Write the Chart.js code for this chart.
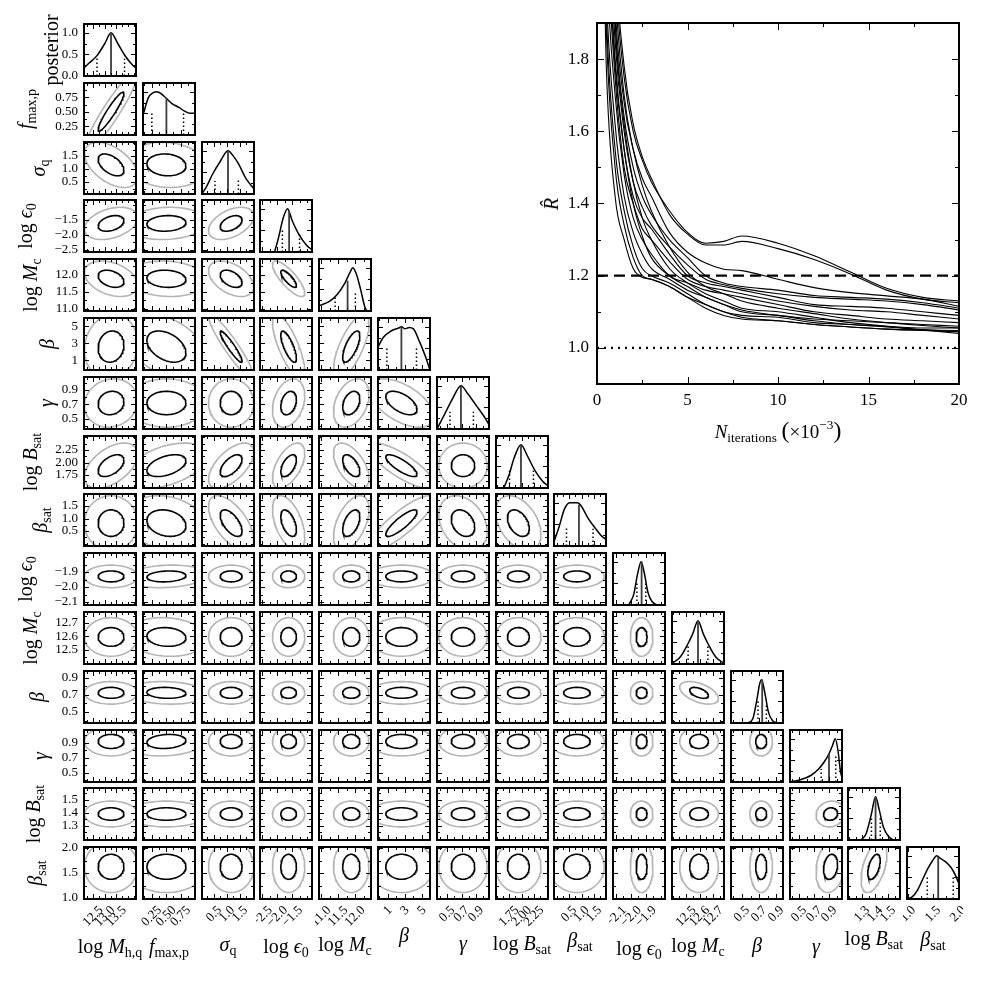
<!DOCTYPE html>
<html lang="en">
<head>
<meta charset="UTF-8">
<title>Posterior corner plot and R-hat convergence</title>
<script src="https://cdn.jsdelivr.net/npm/chart.js@4.4.1/dist/chart.umd.min.js"></script>
<style>
    body { margin: 0; background: #fff; }
    #page { position: relative; width: 983px; height: 983px; overflow: hidden; background: #fff; }
    canvas { position: absolute; }
    .lab { position: absolute; white-space: nowrap; line-height: 1; color: #000;
           font-family: "Liberation Serif", "DejaVu Serif", serif; }
    .lab sub { font-size: 0.7em; vertical-align: -0.3em; }
    .lab sup { font-size: 0.7em; vertical-align: 0.7em; }
</style>
</head>
<body>
<div id="page"></div>
<script>
// ---- corner plot: one entry per parameter ----
const paramLabel = [
    'log <i>M</i><sub>h,q</sub>', '<i>f</i><sub>max,p</sub>', '<i>σ</i><sub>q</sub>', 'log <i>ϵ</i><sub>0</sub>',
    'log <i>M</i><sub>c</sub>', '<i>β</i>', '<i>γ</i>', 'log <i>B</i><sub>sat</sub>', '<i>β</i><sub>sat</sub>',
    'log <i>ϵ</i><sub>0</sub>', 'log <i>M</i><sub>c</sub>', '<i>β</i>', '<i>γ</i>', 'log <i>B</i><sub>sat</sub>',
    '<i>β</i><sub>sat</sub>'
];
const axisLo = [12.10, 0.10, 0.04, -2.57, 10.94, -0.15, 0.36, 1.49, -0.10, -2.120, 12.396, 0.372, 0.38, 1.192, 0.98];
const axisHi = [14.35, 1.00, 2.04, -0.85, 12.47, 5.95, 1.08, 2.53, 1.98, -1.773, 12.780, 0.980, 1.07, 1.592, 2.02];
const majorTicks = [
    [12.5, 13.0, 13.5], [0.25, 0.5, 0.75], [0.5, 1.0, 1.5], [-2.5, -2.0, -1.5], [11.0, 11.5, 12.0],
    [1, 3, 5], [0.5, 0.7, 0.9], [1.75, 2.0, 2.25], [0.5, 1.0, 1.5], [-2.1, -2.0, -1.9],
    [12.5, 12.6, 12.7], [0.5, 0.7, 0.9], [0.5, 0.7, 0.9], [1.3, 1.4, 1.5], [1.0, 1.5, 2.0]
];
const tickText = [
    ['12.5', '13.0', '13.5'], ['0.25', '0.50', '0.75'], ['0.5', '1.0', '1.5'], ['−2.5', '−2.0', '−1.5'],
    ['11.0', '11.5', '12.0'], ['1', '3', '5'], ['0.5', '0.7', '0.9'], ['1.75', '2.00', '2.25'],
    ['0.5', '1.0', '1.5'], ['−2.1', '−2.0', '−1.9'], ['12.5', '12.6', '12.7'], ['0.5', '0.7', '0.9'],
    ['0.5', '0.7', '0.9'], ['1.3', '1.4', '1.5'], ['1.0', '1.5', '2.0']
];
const minorStep = [0.25, 0.125, 0.25, 0.25, 0.25, 1, 0.1, 0.125, 0.25, 0.05, 0.05, 0.1, 0.1, 0.05, 0.25];

// posterior axis of the diagonal panels
const postRange = [0, 1.2];
const postTicks = [0, 0.5, 1.0];
const postText = ['0.0', '0.5', '1.0'];

// 2D contours: centre and spread as a fraction of each axis, correlation per pair (row, col)
const centre = [0.52, 0.45, 0.56, 0.55, 0.62, 0.45, 0.50, 0.43, 0.44, 0.55, 0.52, 0.58, 0.78, 0.50, 0.62];
const spread = [0.165, 0.25, 0.14, 0.10, 0.11, 0.20, 0.15, 0.14, 0.17, 0.07, 0.12, 0.07, 0.09, 0.08, 0.16];
const corr = [
    [],
    [0.93],
    [-0.5, -0.1],
    [0.35, 0.1, 0.45],
    [-0.35, -0.1, -0.45, -0.8],
    [0.1, -0.4, -0.93, -0.75, 0.7],
    [0.1, 0, 0, 0.3, 0.35, -0.55],
    [0.5, 0.45, 0.6, 0.55, -0.55, -0.8, 0],
    [0, -0.2, -0.6, -0.5, 0.5, 0.85, -0.3, -0.4],
    [0, 0.15, 0, 0, 0, 0, 0, 0, 0],
    [0, -0.1, 0, 0, 0, 0, 0, 0, 0, 0],
    [0, -0.1, 0, 0, 0, 0, 0, 0, 0, 0, -0.5],
    [0, 0.15, 0, 0, 0, 0, 0, 0, 0, 0, 0, 0],
    [0, 0, 0, 0, 0, 0, 0, 0, 0, 0, 0, 0, 0.1],
    [0, 0, 0, 0, 0, 0, 0, 0, 0, 0, 0, 0, 0.2, 0.5]
];
const innerLevel = 1.5;
const outerLevel = 3.1;

// 1D marginals: [fraction of axis, height]
const posteriorCurves = [
    [[0, 0.19], [0.1, 0.3], [0.25, 0.47], [0.4, 0.75], [0.52, 1.0], [0.65, 0.75], [0.8, 0.45], [0.92, 0.27], [1, 0.18]],
    [[0, 0.45], [0.1, 0.85], [0.2, 0.98], [0.27, 1.0], [0.4, 0.9], [0.55, 0.73], [0.7, 0.63], [0.8, 0.55], [0.9, 0.5], [1, 0.5]],
    [[0, 0.0], [0.1, 0.2], [0.2, 0.45], [0.35, 0.75], [0.5, 1.0], [0.6, 0.88], [0.7, 0.7], [0.85, 0.35], [1, 0.12]],
    [[0.28, 0.0], [0.35, 0.3], [0.45, 0.8], [0.53, 1.0], [0.62, 0.72], [0.75, 0.4], [0.9, 0.15], [1, 0.05]],
    [[0, 0.12], [0.2, 0.22], [0.35, 0.38], [0.5, 0.65], [0.6, 0.9], [0.65, 1.0], [0.72, 0.85], [0.8, 0.5], [0.88, 0.1], [0.92, 0.0]],
    [[0, 0.53], [0.1, 0.75], [0.25, 0.9], [0.4, 0.97], [0.45, 1.0], [0.52, 0.95], [0.6, 0.98], [0.68, 0.95], [0.8, 0.65], [0.9, 0.35], [1, 0.0]],
    [[0, 0.0], [0.15, 0.35], [0.3, 0.7], [0.46, 1.0], [0.6, 0.8], [0.75, 0.55], [0.9, 0.3], [1, 0.1]],
    [[0.15, 0.0], [0.25, 0.3], [0.35, 0.7], [0.48, 1.0], [0.6, 0.75], [0.75, 0.4], [0.9, 0.15], [1, 0.05]],
    [[0, 0.1], [0.1, 0.45], [0.2, 0.85], [0.3, 1.0], [0.45, 1.0], [0.52, 0.93], [0.65, 0.65], [0.8, 0.4], [0.9, 0.25], [1, 0.15]],
    [[0.3, 0.0], [0.4, 0.25], [0.47, 0.7], [0.54, 1.0], [0.6, 0.75], [0.67, 0.3], [0.75, 0.08], [0.85, 0.0]],
    [[0, 0.02], [0.15, 0.15], [0.3, 0.45], [0.4, 0.7], [0.5, 1.0], [0.6, 0.7], [0.7, 0.45], [0.85, 0.15], [1, 0.02]],
    [[0.32, 0.0], [0.42, 0.1], [0.5, 0.55], [0.55, 0.9], [0.59, 1.0], [0.65, 0.7], [0.72, 0.25], [0.8, 0.05], [0.9, 0.0]],
    [[0, 0.0], [0.2, 0.05], [0.4, 0.15], [0.55, 0.3], [0.65, 0.45], [0.75, 0.65], [0.82, 0.85], [0.87, 1.0], [0.92, 0.75], [0.97, 0.25], [1, 0.1]],
    [[0.25, 0.0], [0.35, 0.15], [0.45, 0.6], [0.53, 1.0], [0.6, 0.7], [0.68, 0.3], [0.78, 0.08], [0.88, 0.0]],
    [[0, 0.0], [0.1, 0.05], [0.2, 0.2], [0.3, 0.45], [0.4, 0.7], [0.5, 0.9], [0.57, 1.0], [0.65, 0.93], [0.75, 0.85], [0.85, 0.72], [0.93, 0.55], [1, 0.35]]
];
const medianLine = [[0.52, 1.0], [0.45, 0.85], [0.5, 1.0], [0.56, 0.95], [0.55, 0.7], [0.45, 1.0], [0.46, 1.0], [0.48, 1.0],
    [0.48, 0.95], [0.55, 1.0], [0.5, 1.0], [0.6, 1.0], [0.75, 0.65], [0.53, 1.0], [0.6, 0.98]];
const lowerLine = [[0.25, 0.42], [0.17, 0.55], [0.25, 0.3], [0.43, 0.5], [0.31, 0.35], [0.17, 0.5], [0.25, 0.4], [0.26, 0.4],
    [0.24, 0.45], [0.46, 0.5], [0.31, 0.45], [0.52, 0.5], [0.6, 0.3], [0.45, 0.5], [0.39, 0.5]];
const upperLine = [[0.78, 0.4], [0.78, 0.5], [0.7, 0.35], [0.76, 0.4], [0.7, 0.45], [0.74, 0.5], [0.7, 0.4], [0.72, 0.4],
    [0.75, 0.4], [0.63, 0.5], [0.69, 0.45], [0.68, 0.45], [0.88, 0.6], [0.62, 0.5], [0.89, 0.5]];

// ---- R-hat panel ----
const rhatIter = [0.25, 0.5, 1, 1.5, 2, 2.5, 3, 4, 5, 6, 7, 8, 10, 12, 14, 16, 18, 20];
const rhatChains = [
    [3.4, 2.8, 2.05, 1.75, 1.6, 1.52, 1.46, 1.38, 1.32, 1.29, 1.295, 1.31, 1.29, 1.255, 1.21, 1.165, 1.14, 1.13],
    [3.5, 2.9, 2.1, 1.78, 1.62, 1.53, 1.47, 1.37, 1.315, 1.285, 1.285, 1.295, 1.275, 1.245, 1.205, 1.16, 1.135, 1.125],
    [3.2, 2.7, 1.95, 1.68, 1.55, 1.47, 1.42, 1.32, 1.265, 1.235, 1.218, 1.214, 1.19, 1.167, 1.153, 1.144, 1.135, 1.115],
    [3.0, 2.5, 1.9, 1.64, 1.5, 1.42, 1.37, 1.3, 1.25, 1.2, 1.18, 1.17, 1.16, 1.145, 1.14, 1.135, 1.125, 1.11],
    [3.0, 2.4, 1.85, 1.6, 1.46, 1.39, 1.34, 1.28, 1.23, 1.19, 1.175, 1.165, 1.15, 1.14, 1.135, 1.13, 1.12, 1.105],
    [2.8, 2.3, 1.8, 1.55, 1.42, 1.36, 1.33, 1.26, 1.2, 1.18, 1.17, 1.16, 1.14, 1.12, 1.115, 1.11, 1.1, 1.09],
    [2.7, 2.2, 1.75, 1.5, 1.4, 1.33, 1.3, 1.24, 1.19, 1.17, 1.16, 1.15, 1.13, 1.115, 1.105, 1.1, 1.09, 1.08],
    [2.6, 2.1, 1.7, 1.48, 1.36, 1.3, 1.26, 1.2, 1.18, 1.16, 1.15, 1.14, 1.12, 1.1, 1.09, 1.08, 1.075, 1.07],
    [2.5, 2.0, 1.62, 1.42, 1.32, 1.26, 1.22, 1.19, 1.16, 1.14, 1.12, 1.105, 1.09, 1.08, 1.075, 1.07, 1.065, 1.06],
    [2.5, 1.95, 1.55, 1.38, 1.28, 1.22, 1.2, 1.18, 1.15, 1.12, 1.1, 1.09, 1.085, 1.07, 1.065, 1.06, 1.055, 1.055],
    [2.45, 1.9, 1.5, 1.34, 1.25, 1.2, 1.19, 1.17, 1.14, 1.11, 1.09, 1.08, 1.075, 1.065, 1.058, 1.052, 1.05, 1.048],
    [2.4, 1.8, 1.42, 1.3, 1.22, 1.195, 1.19, 1.17, 1.14, 1.12, 1.1, 1.085, 1.075, 1.065, 1.058, 1.052, 1.048, 1.045],
    [2.9, 2.3, 1.78, 1.55, 1.4, 1.31, 1.25, 1.2, 1.17, 1.14, 1.12, 1.1, 1.09, 1.075, 1.065, 1.058, 1.05, 1.045],
    [3.1, 2.6, 1.9, 1.62, 1.46, 1.36, 1.3, 1.22, 1.18, 1.15, 1.13, 1.11, 1.1, 1.085, 1.07, 1.06, 1.05, 1.04],
    [3.3, 2.7, 2.0, 1.7, 1.55, 1.45, 1.38, 1.28, 1.21, 1.17, 1.15, 1.13, 1.11, 1.095, 1.08, 1.07, 1.062, 1.055]
];
const rhatThreshold = 1.2;
const rhatIdeal = 1.0;
const rhatXRange = [0, 20];
const rhatYRange = [0.9, 1.9];
const rhatXTicks = [0, 5, 10, 15, 20];
const rhatYTicks = [1.0, 1.2, 1.4, 1.6, 1.8];
const rhatYText = ['1.0', '1.2', '1.4', '1.6', '1.8'];

// ---- layout ----
const SERIF = '"Liberation Serif", "DejaVu Serif", serif';
const N = 15;
const X0 = 84, Y0 = 24, STEP = 58.8, SIZE = 52, PAD = 4, YAXIS_W = 50, XAXIS_H = 52;
const rowLabelX = [51, 27, 40, 27, 32, 47, 46, 32, 42, 27, 32, 37, 40, 35, 37];
const colLabelY = [948, 948, 946, 948, 946, 935, 943, 945, 942, 950, 947, 945, 946, 940, 941];

const page = document.getElementById('page');

function tickList(lo, hi, step, majors) {
    const out = [];
    for (let k = Math.ceil(lo / step - 1e-6); k * step <= hi + 1e-6; k++) {
        const v = k * step;
        out.push({ v, major: majors.some(m => Math.abs(m - v) < step / 10) });
    }
    return out;
}

// inward ticks on all four sides, frame and tick labels
const framePlugin = {
    id: 'frame',
    afterDatasetsDraw(chart, args, o) {
        const { ctx, chartArea: a } = chart;
        const sx = chart.scales.x, sy = chart.scales.y;
        ctx.save();
        ctx.strokeStyle = '#000';
        ctx.lineWidth = 1;
        ctx.beginPath();
        o.xTicks.forEach(t => {
            const p = Math.round(sx.getPixelForValue(t.v)) + 0.5;
            const len = t.major ? o.majorLen : o.minorLen;
            ctx.moveTo(p, a.bottom); ctx.lineTo(p, a.bottom - len);
            ctx.moveTo(p, a.top); ctx.lineTo(p, a.top + len);
        });
        o.yTicks.forEach(t => {
            const p = Math.round(sy.getPixelForValue(t.v)) + 0.5;
            const len = t.major ? o.majorLen : o.minorLen;
            ctx.moveTo(a.left, p); ctx.lineTo(a.left + len, p);
            ctx.moveTo(a.right, p); ctx.lineTo(a.right - len, p);
        });
        ctx.stroke();
        ctx.lineWidth = o.border;
        ctx.strokeRect(a.left, a.top, a.right - a.left, a.bottom - a.top);

        ctx.fillStyle = '#000';
        ctx.font = o.fontSize + 'px ' + SERIF;
        if (o.yLabels) {
            ctx.textAlign = 'right';
            ctx.textBaseline = 'middle';
            o.yLabels.forEach(l => ctx.fillText(l.text, a.left - o.labelPad, sy.getPixelForValue(l.v)));
        }
        if (o.xLabels) {
            o.xLabels.forEach(l => {
                const p = sx.getPixelForValue(l.v);
                if (o.rotate) {
                    const w = ctx.measureText(l.text).width;
                    const half = (w + o.fontSize * 0.7) * Math.SQRT1_2 / 2;
                    ctx.save();
                    ctx.translate(p, a.bottom + o.labelPad + half);
                    ctx.rotate(-Math.PI / 4);
                    ctx.textAlign = 'center';
                    ctx.textBaseline = 'middle';
                    ctx.fillText(l.text, 0, 0);
                    ctx.restore();
                } else {
                    ctx.textAlign = 'center';
                    ctx.textBaseline = 'top';
                    ctx.fillText(l.text, p, a.bottom + o.labelPad);
                }
            });
        }
        ctx.restore();
    }
};

function addCanvas(left, top, w, h) {
    const c = document.createElement('canvas');
    c.width = w; c.height = h;
    c.style.left = left + 'px'; c.style.top = top + 'px';
    c.style.width = w + 'px'; c.style.height = h + 'px';
    page.appendChild(c);
    return c;
}

function makeChart(canvas, padding, xr, yr, datasets, frame) {
    return new Chart(canvas, {
        type: 'scatter',
        data: { datasets },
        options: {
            responsive: false,
            animation: false,
            events: [],
            layout: { padding },
            plugins: { legend: { display: false }, tooltip: { enabled: false }, frame },
            scales: {
                x: { type: 'linear', display: false, min: xr[0], max: xr[1] },
                y: { type: 'linear', display: false, min: yr[0], max: yr[1] }
            }
        },
        plugins: [framePlugin]
    });
}

function line(data, color, width, dash, smooth) {
    return {
        data, showLine: true, borderColor: color, borderWidth: width, borderDash: dash || [],
        pointRadius: 0, fill: false, tension: 0,
        cubicInterpolationMode: smooth ? 'monotone' : 'default'
    };
}

function toData(p, f) { return axisLo[p] + f * (axisHi[p] - axisLo[p]); }

function contour(i, j, level) {
    // Gaussian-style contour from centre / spread / correlation
    const rho = corr[i][j];
    const pts = [];
    for (let n = 0; n <= 80; n++) {
        const t = n / 80 * 2 * Math.PI;
        const u = Math.cos(t), w = Math.sin(t);
        const fx = centre[j] + level * spread[j] * u;
        const fy = centre[i] + level * spread[i] * (rho * u + Math.sqrt(1 - rho * rho) * w);
        pts.push({ x: toData(j, fx), y: toData(i, fy) });
    }
    return pts;
}

for (let i = 0; i < N; i++) {
    for (let j = 0; j <= i; j++) {
        const left = Math.round(X0 + j * STEP), top = Math.round(Y0 + i * STEP);
        const isLeft = j === 0, isBottom = i === N - 1;
        const padL = PAD + (isLeft ? YAXIS_W : 0), padB = PAD + (isBottom ? XAXIS_H : 0);
        const canvas = addCanvas(left - padL, top - PAD, padL + SIZE + PAD, PAD + SIZE + padB);

        const xr = [axisLo[j], axisHi[j]];
        const xTicks = tickList(xr[0], xr[1], minorStep[j], majorTicks[j]);
        let yr, yTicks, yLabels = null, datasets;

        if (i === j) {
            yr = postRange;
            yTicks = tickList(yr[0], yr[1], 0.25, postTicks);
            if (isLeft) yLabels = postTicks.map((v, k) => ({ v, text: postText[k] }));
            const curve = posteriorCurves[i].map(p => ({ x: toData(i, p[0]), y: p[1] }));
            const vline = p => [{ x: toData(i, p[0]), y: 0 }, { x: toData(i, p[0]), y: p[1] }];
            datasets = [
                line(vline(lowerLine[i]), '#000', 1.5, [1.5, 2.5]),
                line(vline(upperLine[i]), '#000', 1.5, [1.5, 2.5]),
                line(vline(medianLine[i]), '#3c3c3c', 1.8),
                line(curve, '#000', 1.5, null, true)
            ];
        } else {
            yr = [axisLo[i], axisHi[i]];
            yTicks = tickList(yr[0], yr[1], minorStep[i], majorTicks[i]);
            if (isLeft) yLabels = majorTicks[i].map((v, k) => ({ v, text: tickText[i][k] }));
            datasets = [
                line(contour(i, j, outerLevel), '#b4b4b4', 1.6),
                line(contour(i, j, innerLevel), '#000', 1.6)
            ];
        }
        const xLabels = isBottom ? majorTicks[j].map((v, k) => ({ v, text: tickText[j][k] })) : null;

        makeChart(canvas, { left: padL, top: PAD, right: PAD, bottom: padB }, xr, yr, datasets, {
            xTicks, yTicks, majorLen: 5, minorLen: 3, border: 2,
            yLabels, xLabels, rotate: true, fontSize: 13, labelPad: 6
        });
    }
}

// ---- R-hat convergence panel ----
(function () {
    const left = 597, top = 23, w = 362, h = 361;
    const padL = 50, padB = 34, padR = 20;
    const canvas = addCanvas(left - padL, top - PAD, padL + w + padR, PAD + h + padB);
    const datasets = rhatChains.map(c => line(c.map((y, k) => ({ x: rhatIter[k], y })), '#000', 1.1, null, true));
    datasets.push(line([{ x: rhatXRange[0], y: rhatThreshold }, { x: rhatXRange[1], y: rhatThreshold }], '#000', 2.2, [11, 6]));
    datasets.push(line([{ x: rhatXRange[0], y: rhatIdeal }, { x: rhatXRange[1], y: rhatIdeal }], '#000', 2.2, [2, 5]));
    makeChart(canvas, { left: padL, top: PAD, right: padR, bottom: padB }, rhatXRange, rhatYRange, datasets, {
        xTicks: tickList(rhatXRange[0], rhatXRange[1], 2.5, rhatXTicks),
        yTicks: tickList(rhatYRange[0], rhatYRange[1], 0.1, rhatYTicks),
        majorLen: 7, minorLen: 4, border: 2,
        yLabels: rhatYTicks.map((v, k) => ({ v, text: rhatYText[k] })),
        xLabels: rhatXTicks.map(v => ({ v, text: String(v) })),
        rotate: false, fontSize: 17, labelPad: 8
    });
})();

// ---- axis titles as text ----
function addLabel(html, cx, cy, size, rotate) {
    const d = document.createElement('div');
    d.className = 'lab';
    d.innerHTML = html;
    d.style.fontSize = size + 'px';
    d.style.left = cx + 'px';
    d.style.top = cy + 'px';
    d.style.transform = 'translate(-50%, -50%)' + (rotate ? ' rotate(-90deg)' : '');
    page.appendChild(d);
}

for (let i = 0; i < N; i++) {
    const cy = Math.round(Y0 + i * STEP) + SIZE / 2;
    addLabel(i === 0 ? 'posterior' : paramLabel[i], rowLabelX[i], cy, 20, true);
    const cx = Math.round(X0 + i * STEP) + SIZE / 2;
    addLabel(paramLabel[i], cx, colLabelY[i], 20, false);
}
addLabel('<i>R&#770;</i>', 551, 204, 20, true);
addLabel('<i>N</i><sub>iterations</sub> <span style="font-size:1.25em">(</span>×10<sup>−3</sup><span style="font-size:1.25em">)</span>', 778, 431, 19, false);
</script>
</body>
</html>
